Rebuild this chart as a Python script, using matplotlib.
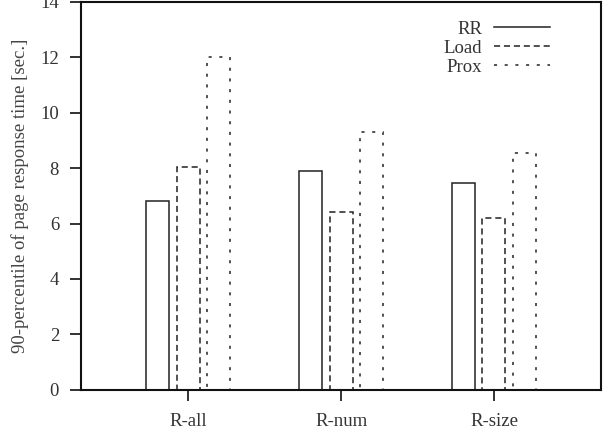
import numpy as np
import matplotlib
matplotlib.use('Agg')
import matplotlib.pyplot as plt
from matplotlib.lines import Line2D

categories = ['R-all', 'R-num', 'R-size']
series = ['RR', 'Load', 'Prox']
rr = [6.8, 7.9, 7.45]
load = [8.05, 6.4, 6.2]
prox = [12.0, 9.3, 8.55]

plt.rcParams['font.family'] = ['Liberation Serif', 'DejaVu Serif']
plt.rcParams['font.size'] = 13.5

fig = plt.figure(figsize=(6.07, 4.43), dpi=100)
ax = fig.add_axes([0.134, 0.12, 0.856, 0.876])

x = np.arange(len(categories))
w = 0.15
styles = ['-', (0, (4, 2.5)), (0, (2, 5))]
for i, (vals, ls) in enumerate(zip([rr, load, prox], styles)):
    ax.bar(x + (i - 1) * 0.2, vals, w, facecolor='none', edgecolor='#222222',
           linewidth=1.1, linestyle=ls)

handles = [Line2D([], [], color='#222222', lw=1.1, ls=ls) for ls in styles]
ax.legend(handles, series, loc='upper right', frameon=False, markerfirst=False,
          handlelength=3.0, handletextpad=0.6, labelspacing=0.1,
          bbox_to_anchor=(0.934, 0.995), fontsize=13.5, labelcolor='#333333')

ax.set_xlim(-0.7, 2.7)
ax.set_ylim(0, 14)
ax.set_xticks(x)
ax.set_xticklabels(categories)
ax.set_yticks(range(0, 15, 2))
ax.tick_params(direction='out', length=8, width=1.3, pad=8, color='#222222',
               labelcolor='#333333')
ax.tick_params(axis='x', pad=9)
for s in ax.spines.values():
    s.set_linewidth(1.5)
    s.set_color('#111111')
ax.set_ylabel('90-percentile of page response time [sec.]', fontsize=13.5,
              color='#444444', labelpad=8)

fig.savefig('out.png', dpi=100)
